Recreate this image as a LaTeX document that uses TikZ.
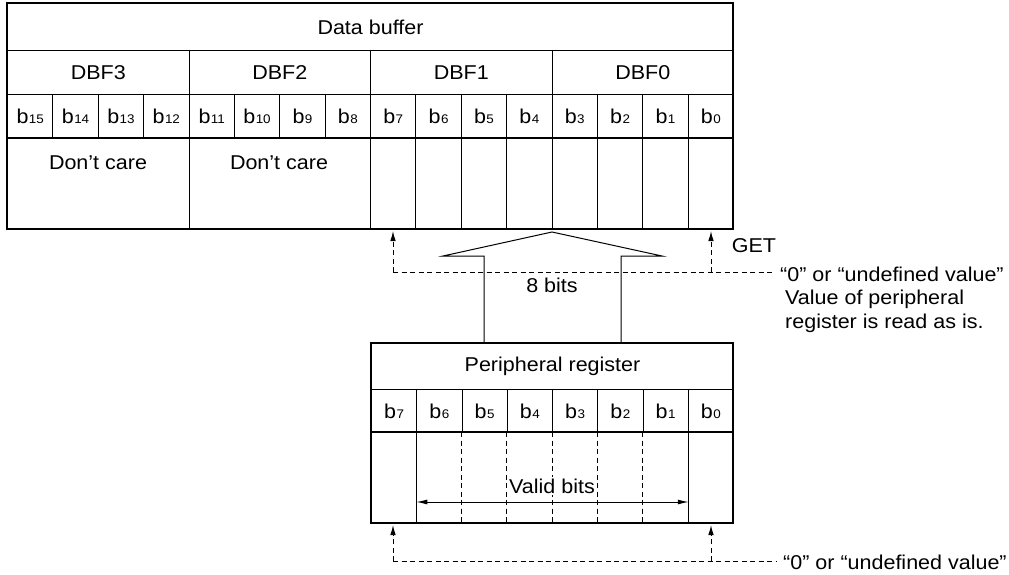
\documentclass[tikz,border=0pt]{standalone}
\usepackage{fontspec}
\setmainfont[FakeStretch=1.075]{Liberation Sans}
\usetikzlibrary{arrows.meta}
\newcommand{\bitlbl}[1]{b\kern0.4pt{\fontsize{12.5}{13}\selectfont #1}}
\begin{document}
\begin{tikzpicture}[x=1pt,y=-1pt,
  txt/.style={font=\fontsize{20}{23}\selectfont, inner sep=0pt},
  cell/.style={draw, line width=1pt, inner sep=0pt, anchor=north west, font=\fontsize{20}{23}\selectfont},
  bitcell/.style={cell, minimum width=45.375pt, minimum height=44pt},
  heavy/.style={line width=2.4pt},
  dashline/.style={line width=1pt, dash pattern=on 5pt off 3.5pt},
  smallarrow/.style={-{Latex[length=10pt,width=5.5pt]}, dashline},
]
\useasboundingbox (0,0) rectangle (1009,575);

% ---------- Data buffer ----------
\node[cell, minimum width=726pt, minimum height=47pt] (dbt) at (7,3) {Data buffer};
\foreach \i/\n in {0/3,1/2,2/1,3/0}
  \node[cell, minimum width=181.5pt, minimum height=44pt] (dbf\n) at (7+181.5*\i,50) {DBF\n};
\foreach \i in {0,...,15}{
  \pgfmathtruncatemacro{\b}{15-\i}
  \node[bitcell] (db\b) at (7+45.375*\i,94) {\bitlbl{\b}};
}
\node[cell, minimum width=181.5pt, minimum height=91pt] (dc3) at (7,138) {};
\node[cell, minimum width=181.5pt, minimum height=91pt] (dc2) at (188.5,138) {};
\foreach \i in {0,...,7}{
  \pgfmathtruncatemacro{\b}{7-\i}
  \node[cell, minimum width=45.375pt, minimum height=91pt] (dv\b) at (370+45.375*\i,138) {};
}
\node[txt] (dct3) at (98,163) {Don’t care};
\node[txt] (dct2) at (279,163) {Don’t care};
\draw[heavy] (7,3) rectangle (733,229);
\draw[heavy] (7,138) -- (733,138);

% ---------- Peripheral register ----------
\node[cell, minimum width=362pt, minimum height=46pt] (prt) at (371,343) {Peripheral register};
\foreach \i in {0,...,7}{
  \pgfmathtruncatemacro{\b}{7-\i}
  \node[cell, minimum width=45.25pt, minimum height=43pt] (pb\b) at (371+45.25*\i,389) {\bitlbl{\b}};
}
\node[cell, minimum width=362pt, minimum height=91pt] (prc) at (371,432) {};
\draw[line width=1pt] (416.25,432) -- (416.25,523);
\draw[line width=1pt] (688.75,432) -- (688.75,523);
\foreach \x in {461.5,506.75,552,597.25,642.5}
  \draw[dashline] (\x,432) -- (\x,523);
\draw[heavy] (371,343) rectangle (733,523);
\draw[heavy] (371,432) -- (733,432);

% Valid bits
\coordinate (va) at (416.25,502);
\coordinate (vb) at (688.75,502);
\draw[line width=1pt, {Latex[length=11pt,width=5pt]}-{Latex[length=11pt,width=5pt]}] (va) -- (vb);
\node[txt, fill=white, inner xsep=1pt, inner ysep=2pt] (vbt) at (552,486) {Valid bits};

% ---------- Big 8-bit arrow ----------
\draw[line width=1pt] (484,343) -- (484,256) -- (443,256) -- (552,232) -- (662,256) -- (621,256) -- (621,343);
\node[txt] (eight) at (552,285) {8 bits};

% ---------- GET dashed arrows (top) ----------
\coordinate (gl) at (393,272);
\coordinate (gr) at (711,272);
\coordinate (ge) at (774,272);
\coordinate (tl) at (393,231);
\coordinate (tr) at (711,231);
\draw[dashline] (gl) -- (ge);
\draw[smallarrow] (gl) -- (tl);
\draw[smallarrow] (gr) -- (tr);
\node[txt] (get) at (754,246) {GET};
\node[txt, anchor=west] (und1) at (780,274) {“0” or “undefined value”};
\node[txt, anchor=west] (val1) at (785,299) {Value of peripheral};
\node[txt, anchor=west] (val2) at (785,323) {register is read as is.};

% ---------- bottom dashed arrows ----------
\coordinate (bl) at (393,561);
\coordinate (br) at (711,561);
\coordinate (be) at (777,561);
\coordinate (btl) at (393,525);
\coordinate (btr) at (711,525);
\draw[dashline] (bl) -- (be);
\draw[smallarrow] (bl) -- (btl);
\draw[smallarrow] (br) -- (btr);
\node[txt, anchor=west] (und2) at (783,562) {“0” or “undefined value”};
\end{tikzpicture}
\end{document}
